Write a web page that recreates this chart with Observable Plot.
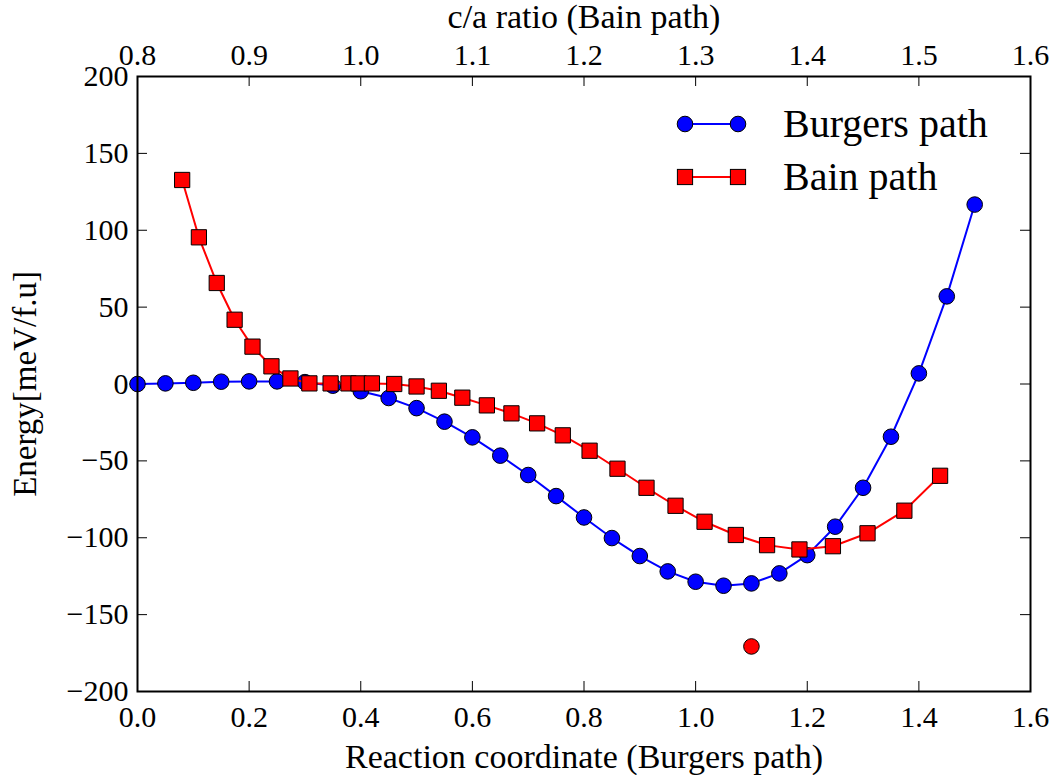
<!DOCTYPE html>
<html><head><meta charset="utf-8">
<script src="https://cdn.jsdelivr.net/npm/d3@7"></script>
<script src="https://cdn.jsdelivr.net/npm/@observablehq/plot@0.6"></script>
<style>body{margin:0;background:#fff}</style>
</head><body><div id="chart"></div>
<script>
// Burgers path: reaction coordinate vs energy (meV/f.u.)
const burgersX = [0.00,0.05,0.10,0.15,0.20,0.25,0.30,0.35,0.40,0.45,0.50,0.55,0.60,0.65,0.70,0.75,0.80,0.85,0.90,0.95,1.00,1.05,1.10,1.15,1.20,1.25,1.30,1.35,1.40,1.45,1.50];
const burgersE = [0.0,0.4,0.8,1.5,1.7,1.7,1.2,-1.1,-4.7,-9.1,-15.7,-24.5,-34.7,-46.6,-59.2,-72.9,-86.8,-100.2,-111.9,-121.9,-128.6,-131.2,-129.7,-123.2,-111.3,-92.8,-67.5,-34.3,6.9,57.0,116.7];
// Bain path: c/a ratio vs energy (meV/f.u.)
const bainCA = [0.840,0.855,0.871,0.887,0.903,0.920,0.937,0.954,0.973,0.989,0.998,1.010,1.030,1.050,1.070,1.091,1.113,1.135,1.158,1.181,1.205,1.230,1.256,1.282,1.308,1.336,1.364,1.393,1.423,1.454,1.487,1.519];
const bainE = [132.7,95.4,65.7,41.8,24.3,11.5,3.6,0.4,0.4,0.4,0.4,0.4,0.0,-1.6,-4.4,-8.9,-13.9,-19.1,-25.6,-33.4,-43.4,-55.1,-67.5,-79.2,-89.6,-98.2,-104.8,-107.6,-105.5,-97.1,-82.4,-59.7];
// Isolated point
const extraX = [1.10];
const extraE = [-170.7];
// Ticks
const xTicks = [0.0,0.2,0.4,0.6,0.8,1.0,1.2,1.4,1.6];
const caTicks = [0.8,0.9,1.0,1.1,1.2,1.3,1.4,1.5,1.6];
const yTicks = [-200,-150,-100,-50,0,50,100,150,200];
const seriesNames = ["Burgers path","Bain path"];
const seriesColors = ["#0000ff","#ff0000"];
const xLabel = "Reaction coordinate (Burgers path)";
const topLabel = "c/a ratio (Bain path)";
const yLabel = "Energy[meV/f.u]";

const W = 1057, H = 775, mL = 137, mR = 27, mT = 76, mB = 84;
const innerW = W - mL - mR, innerH = H - mT - mB;
const tk = 10;
const caToX = ca => (ca - 0.8) * 2;

const burgers = burgersX.map((x, i) => ({x, e: burgersE[i]}));
const bain = bainCA.map((ca, i) => ({x: caToX(ca), e: bainE[i]}));
const extra = extraX.map((x, i) => ({x, e: extraE[i]}));
const fmtY = d => d < 0 ? "\u2212" + Math.abs(d) : String(d);
const FONT = '"Liberation Serif", "DejaVu Serif", serif';

const chart = Plot.plot({
  width: W, height: H,
  marginLeft: mL, marginRight: mR, marginTop: mT, marginBottom: mB,
  style: "font-family: 'Liberation Serif', 'DejaVu Serif', serif; font-size: 30px; background: #fff; color: #000; overflow: visible;",
  x: {domain: [0, 1.6]},
  y: {domain: [-200, 200]},
  marks: [
    Plot.ruleX(xTicks, {x: d => d, insetTop: innerH - tk, stroke: "#000"}),
    Plot.ruleX(caTicks.map(caToX), {x: d => d, insetBottom: innerH - tk, stroke: "#000"}),
    Plot.ruleY(yTicks, {y: d => d, insetRight: innerW - tk, stroke: "#000"}),
    Plot.ruleY(yTicks, {y: d => d, insetLeft: innerW - tk, stroke: "#000"}),
    Plot.axisX(xTicks, {anchor: "bottom", tickSize: 0, tickPadding: 14, tickFormat: d => d.toFixed(1), label: null}),
    Plot.axisX(caTicks.map(caToX), {anchor: "top", tickSize: 0, tickPadding: 12, tickFormat: d => (0.8 + d / 2).toFixed(1), label: null}),
    Plot.axisY(yTicks, {anchor: "left", tickSize: 0, tickPadding: 9, tickFormat: fmtY, label: null}),
    Plot.line(burgers, {x: "x", y: "e", stroke: seriesColors[0], strokeWidth: 2}),
    Plot.dot(burgers, {x: "x", y: "e", r: 7.8, fill: seriesColors[0], stroke: "#000", strokeWidth: 1}),
    Plot.line(bain, {x: "x", y: "e", stroke: seriesColors[1], strokeWidth: 2}),
    Plot.dot(bain, {x: "x", y: "e", symbol: "square", r: 8.6, fill: seriesColors[1], stroke: "#000", strokeWidth: 1}),
    Plot.dot(extra, {x: "x", y: "e", r: 7.8, fill: seriesColors[1], stroke: "#000", strokeWidth: 1}),
    Plot.frame({stroke: "#000", strokeWidth: 2}),
    Plot.text([xLabel], {frameAnchor: "bottom", lineAnchor: "middle", textAnchor: "middle", dy: 66, fontSize: 34, text: d => d}),
    Plot.text([topLabel], {frameAnchor: "top", lineAnchor: "middle", textAnchor: "middle", dy: -59, fontSize: 34, text: d => d}),
    Plot.text([yLabel], {frameAnchor: "left", lineAnchor: "middle", textAnchor: "middle", dx: -112, rotate: -90, fontSize: 33, text: d => d})
  ]
});
chart.setAttribute("font-family", FONT);
document.getElementById("chart").appendChild(chart);

// Legend (inside plot, top right)
const svg = d3.select(chart);
const lg = svg.append("g").attr("class", "legend");
const rows = [124, 177];
seriesNames.forEach((name, i) => {
  const y = rows[i];
  const g = lg.append("g");
  g.append("line").attr("x1", 685).attr("x2", 738).attr("y1", y).attr("y2", y)
    .attr("stroke", seriesColors[i]).attr("stroke-width", 2);
  [685, 738].forEach(cx => {
    if (i === 0) {
      g.append("circle").attr("cx", cx).attr("cy", y).attr("r", 7.8)
        .attr("fill", seriesColors[i]).attr("stroke", "#000");
    } else {
      g.append("rect").attr("x", cx - 7.6).attr("y", y - 7.6).attr("width", 15.2).attr("height", 15.2)
        .attr("fill", seriesColors[i]).attr("stroke", "#000");
    }
  });
  g.append("text").attr("x", 783).attr("y", y + 13).attr("font-size", 40)
    .attr("text-anchor", "start")
    .attr("font-family", FONT).attr("fill", "#000").text(name);
});
</script>
</body></html>
